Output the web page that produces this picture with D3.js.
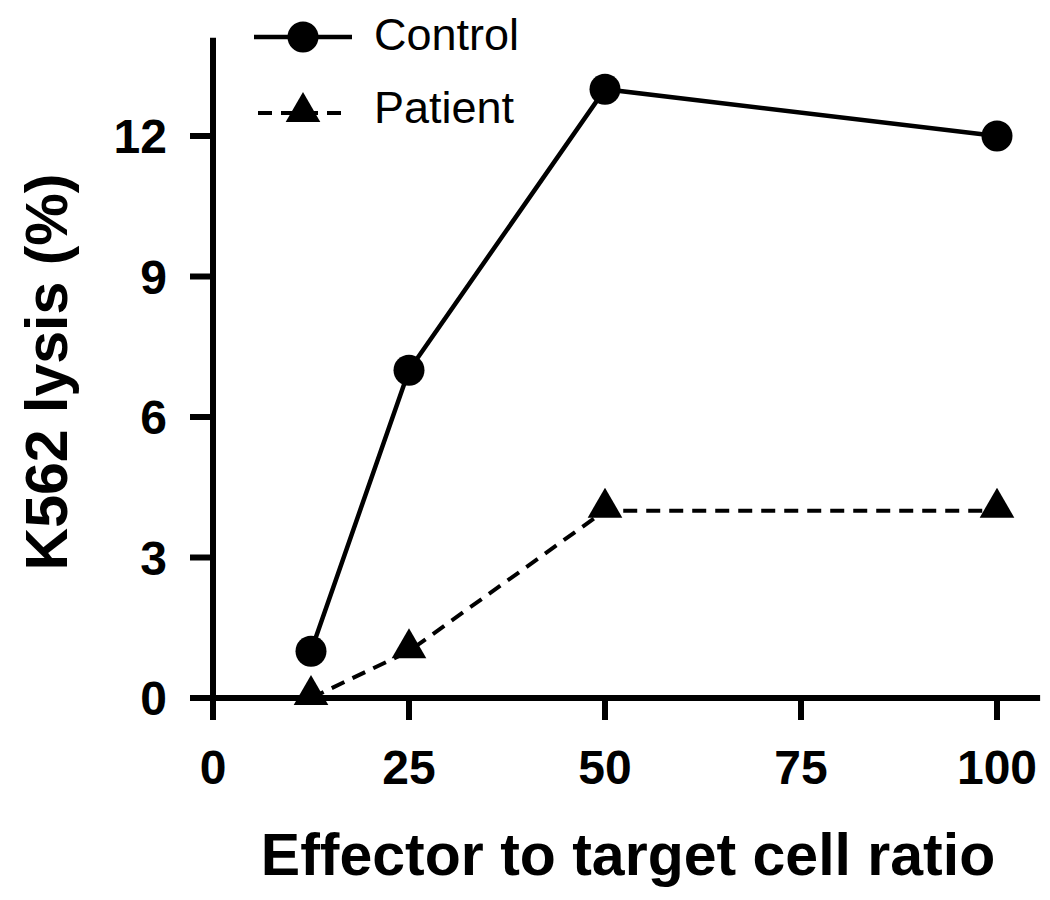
<!DOCTYPE html>
<meta charset="utf-8">
<style>
body { margin: 0; background: #fff; }
text { font-family: "Liberation Sans", Arial, sans-serif; fill: #000; }
.tick-label { font-weight: bold; font-size: 48px; }
.title { font-weight: bold; font-size: 59px; }
.legend { font-size: 45px; }
</style>
<svg width="1050" height="900"></svg>
<script src="https://d3js.org/d3.v7.min.js"></script>
<script>
let svg = d3.select("svg");

// data
let ratios = [12.5, 25, 50, 100];
let control = [1, 7, 13, 12];
let patient = [0, 1, 4, 4];
let xTicks = [0, 25, 50, 75, 100];
let yTicks = [0, 3, 6, 9, 12];

let x = d3.scaleLinear().domain([0, 100]).range([213, 997]);
let y = d3.scaleLinear().domain([0, 12]).range([698, 136]);

let axes = svg.append("g").attr("stroke", "#000").attr("stroke-width", 6);

// x axis line, runs a little past the y axis on the left
axes.append("line")
  .attr("x1", 190).attr("x2", x(105.5))
  .attr("y1", y(0)).attr("y2", y(0));
// y axis line
axes.append("line")
  .attr("x1", x(0)).attr("x2", x(0))
  .attr("y1", y(14.1)).attr("y2", y(0) + 22);

axes.selectAll(".xt").data(xTicks).enter().append("line")
  .attr("x1", d => x(d)).attr("x2", d => x(d))
  .attr("y1", y(0)).attr("y2", y(0) + 22);
axes.selectAll(".yt").data(yTicks).enter().append("line")
  .attr("x1", 190).attr("x2", x(0))
  .attr("y1", d => y(d)).attr("y2", d => y(d));

svg.selectAll(".xl").data(xTicks).enter().append("text")
  .attr("class", "tick-label")
  .attr("x", d => x(d)).attr("y", 784)
  .attr("text-anchor", "middle")
  .text(d => d);
svg.selectAll(".yl").data(yTicks).enter().append("text")
  .attr("class", "tick-label")
  .attr("x", 167).attr("y", d => y(d) + 17)
  .attr("text-anchor", "end")
  .text(d => d);

svg.append("text").attr("class", "title")
  .attr("x", 628).attr("y", 875)
  .attr("text-anchor", "middle")
  .text("Effector to target cell ratio");
svg.append("text").attr("class", "title")
  .attr("transform", "translate(67,372) rotate(-90)")
  .attr("text-anchor", "middle")
  .text("K562 lysis (%)");

let line = d3.line().x(d => x(d[0])).y(d => y(d[1]));
let tri = d3.symbol().type(d3.symbolTriangle).size(520);

svg.append("path")
  .datum(ratios.map((r, i) => [r, patient[i]]))
  .attr("d", line).attr("fill", "none")
  .attr("stroke", "#000").attr("stroke-width", 4)
  .attr("stroke-dasharray", "14,9");
svg.append("path")
  .datum(ratios.map((r, i) => [r, control[i]]))
  .attr("d", line).attr("fill", "none")
  .attr("stroke", "#000").attr("stroke-width", 4.5);

svg.selectAll(".pt").data(ratios).enter().append("path")
  .attr("d", tri)
  .attr("transform", (d, i) => `translate(${x(d)},${y(patient[i]) - 3})`)
  .attr("fill", "#000");
svg.selectAll(".ct").data(ratios).enter().append("circle")
  .attr("cx", d => x(d)).attr("cy", (d, i) => y(control[i]))
  .attr("r", 15.5).attr("fill", "#000");

// legend
let lg = svg.append("g");
lg.append("line").attr("x1", 254).attr("x2", 352).attr("y1", 37).attr("y2", 37)
  .attr("stroke", "#000").attr("stroke-width", 4.5);
lg.append("circle").attr("cx", 303).attr("cy", 37).attr("r", 15.5);
lg.append("line").attr("x1", 258).attr("x2", 347).attr("y1", 113).attr("y2", 113)
  .attr("stroke", "#000").attr("stroke-width", 4).attr("stroke-dasharray", "14,9");
lg.append("path").attr("d", tri).attr("transform", "translate(303,112)");
lg.append("text").attr("class", "legend").attr("x", 374).attr("y", 50).text("Control");
lg.append("text").attr("class", "legend").attr("x", 374).attr("y", 123).text("Patient");
</script>
